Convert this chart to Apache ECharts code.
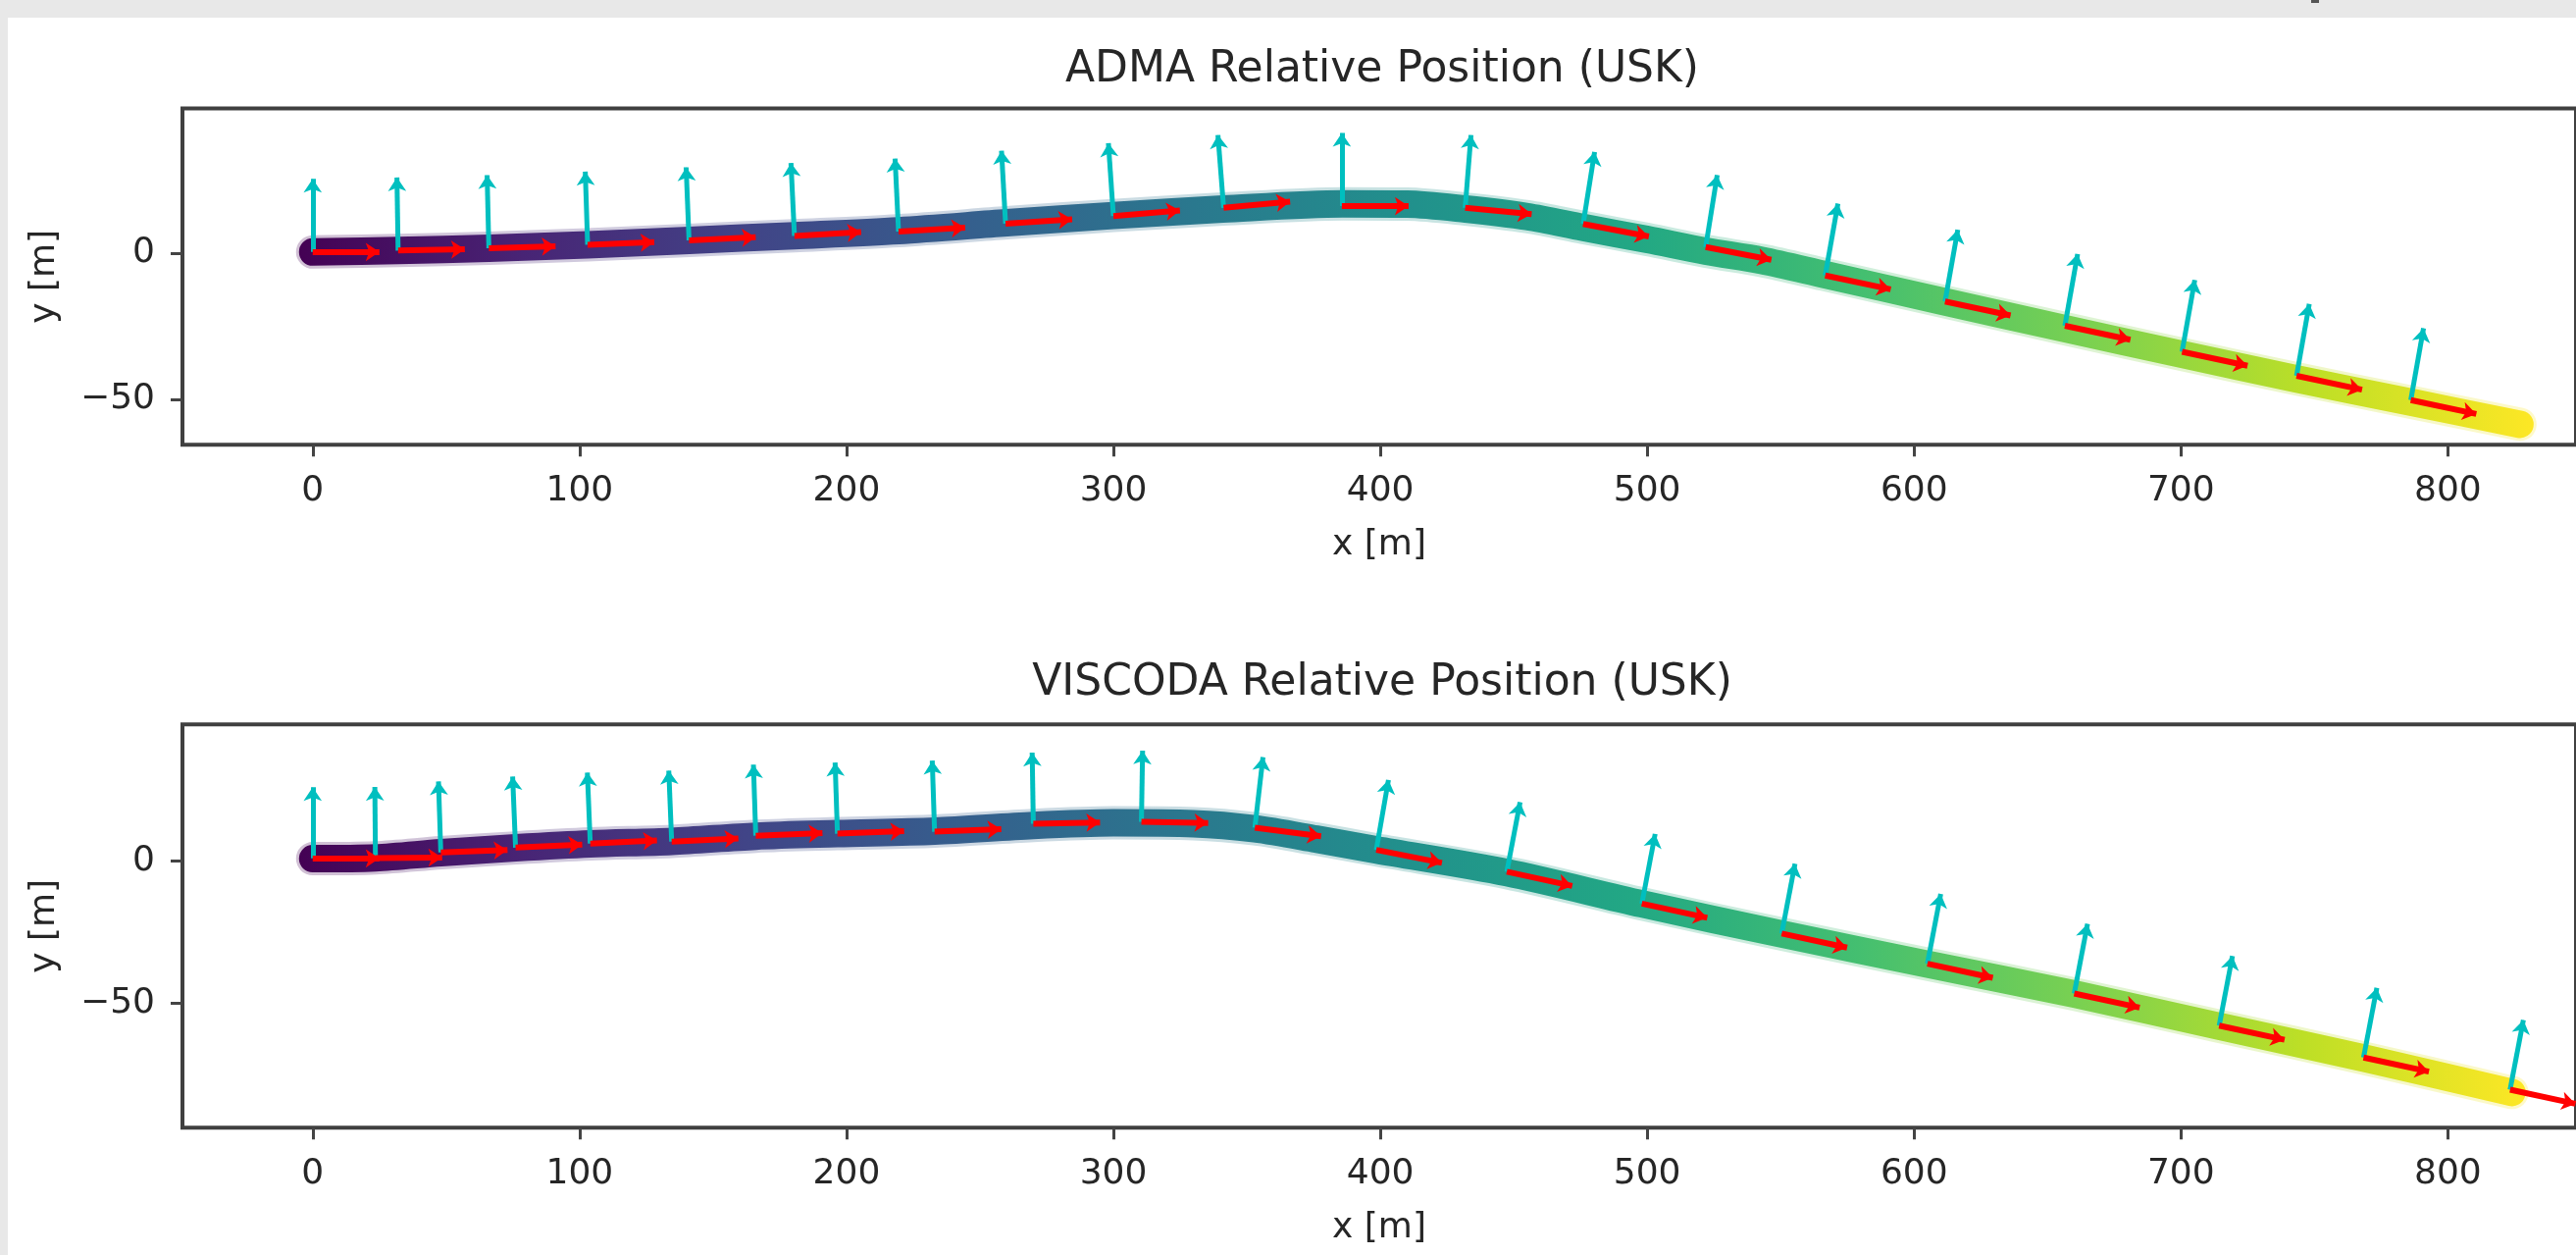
<!DOCTYPE html>
<html>
<head>
<meta charset="utf-8">
<title>Relative Position (USK)</title>
<script src="https://cdn.jsdelivr.net/npm/echarts@6/dist/echarts.min.js"></script>
<style>
  html, body { margin: 0; padding: 0; background: #fff; }
  #chart { width: 2626px; height: 1279px; }
</style>
</head>
<body>
<div id="chart"></div>
<script>
// tick labels
var xTicks = [0, 100, 200, 300, 400, 500, 600, 700, 800];
var yTicks = [-50, 0];

// ADMA trajectory (x, y in m)
var admaPathX = [0, 32, 66, 103, 141, 180.5, 219.5, 260, 300, 341, 386, 410, 432, 455, 476, 500, 522, 543, 566, 611, 656, 700, 743, 786, 827];
var admaPathY = [0.3, 0.8, 1.6, 2.8, 4.3, 5.9, 7.6, 10.3, 12.8, 15, 16.8, 16.7, 15, 12.4, 8.7, 4.6, 0.6, -2.6, -7.3, -16.6, -25.8, -34.6, -43, -51, -58.6];
// ADMA heading arrows: tail position and heading angle (deg)
var admaArrowX = [0, 32, 66, 103, 141, 180.5, 219.5, 259.6, 300, 341.3, 385.6, 431.8, 476, 521.9, 566.7, 611.6, 656.5, 700.4, 743.3, 786.1];
var admaArrowY = [0.3, 0.8, 1.6, 2.8, 4.3, 5.8, 7.3, 10, 12.6, 15.4, 16, 15.4, 9.9, 2, -7.7, -16.6, -24.9, -33.8, -42, -50.3];
var admaHeading = [0, 1, 1.5, 2, 2.5, 3, 3, 3.5, 4.3, 4.9, 0, -5, -9.9, -10, -11, -11, -11, -11, -11, -11];

// VISCODA trajectory
var viscodaPathX = [0, 23.5, 48, 76, 104, 134.5, 166, 196.6, 233, 270, 300, 330, 353, 376, 398.5, 447.4, 498, 550.4, 605, 660, 714.3, 768.4, 824];
var viscodaPathY = [0.9, 1.2, 3, 4.7, 6.1, 7, 8.8, 9.7, 10.6, 12.6, 13.5, 13.2, 11.4, 7.8, 4, -4, -15, -25.6, -36.2, -46.7, -58, -69.2, -81.3];
var viscodaArrowX = [0, 23.5, 48, 76, 104, 134.5, 166, 196.6, 233, 270, 310.5, 353, 398.5, 447.4, 498, 550.4, 605, 660, 714.3, 768.4, 823.3];
var viscodaArrowY = [1, 1.1, 3.1, 4.8, 6.2, 6.9, 9, 9.7, 10.4, 13.2, 13.9, 11.8, 4, -3.7, -14.9, -25.4, -36, -46.5, -57.8, -69, -80.3];
var viscodaHeading = [0, 0.5, 2, 2.5, 2.5, 2.5, 2, 2, 2, 1, -1, -7, -10.5, -11.5, -11.5, -11.5, -11.5, -11.5, -11.5, -11.5, -11.5];

var viridis = ['#440154', '#482475', '#414487', '#355f8d', '#2a788e', '#21918c',
               '#22a884', '#44bf70', '#7ad151', '#bddf26', '#fde725'];
var ARROW_LEN = 25;
var FONT = 'DejaVu Sans';

function pairs(xs, ys) {
  return xs.map(function (x, i) { return [x, ys[i]]; });
}

// side = false: along heading (red), side = true: left normal (cyan)
function arrows(xs, ys, heading, side) {
  return xs.map(function (x, i) {
    var a = heading[i] * Math.PI / 180;
    var dx = side ? -Math.sin(a) : Math.cos(a);
    var dy = side ? Math.cos(a) : Math.sin(a);
    return { coords: [[x, ys[i]], [x + ARROW_LEN * dx, ys[i] + ARROW_LEN * dy]] };
  });
}

function gradient() {
  return new echarts.graphic.LinearGradient(0, 0, 1, 0, viridis.map(function (c, i) {
    return { offset: i / (viridis.length - 1), color: c };
  }));
}

function minus(v) {
  return String(v).replace('-', '\u2212');
}

function xAxis(idx) {
  return {
    gridIndex: idx, type: 'value', min: -48.8, max: 848,
    axisLine: { show: false, onZero: false }, splitLine: { show: false },
    axisTick: { show: true, length: 12, customValues: xTicks, lineStyle: { width: 3, color: '#444' } },
    axisLabel: { customValues: xTicks, fontSize: 36, fontFamily: FONT, color: '#262626', margin: 29 },
    name: 'x [m]', nameLocation: 'middle', nameGap: 84,
    nameTextStyle: { fontSize: 36, fontFamily: FONT, color: '#262626' }
  };
}

function yAxis(idx, min, max) {
  return {
    gridIndex: idx, type: 'value', min: min, max: max,
    axisLine: { show: false, onZero: false }, splitLine: { show: false },
    axisTick: { show: true, length: 12, customValues: yTicks, lineStyle: { width: 3, color: '#444' } },
    axisLabel: { customValues: yTicks, fontSize: 36, fontFamily: FONT, color: '#262626', margin: 28,
                 formatter: minus },
    name: 'y [m]', nameLocation: 'middle', nameGap: 122,
    nameTextStyle: { fontSize: 36, fontFamily: FONT, color: '#262626' }
  };
}

function trackSeries(idx, xs, ys) {
  return [{
    type: 'line', xAxisIndex: idx, yAxisIndex: idx, data: pairs(xs, ys),
    showSymbol: false, smooth: 0.3, z: 1, silent: true,
    lineStyle: { width: 34, color: gradient(), opacity: 0.25, cap: 'round', join: 'round' }
  }, {
    type: 'line', xAxisIndex: idx, yAxisIndex: idx, data: pairs(xs, ys),
    showSymbol: false, smooth: 0.3, z: 2, silent: true,
    lineStyle: { width: 28, color: gradient(), cap: 'round', join: 'round' }
  }];
}

function arrowSeries(idx, xs, ys, heading, side, color, width, size) {
  return {
    type: 'lines', coordinateSystem: 'cartesian2d', xAxisIndex: idx, yAxisIndex: idx,
    symbol: ['none', 'arrow'], symbolSize: size, z: side ? 3 : 4, silent: true,
    lineStyle: { color: color, width: width, opacity: 1, curveness: 0 },
    data: arrows(xs, ys, heading, side)
  };
}

var chart = echarts.init(document.getElementById('chart'));

chart.setOption({
  animation: false,
  backgroundColor: '#ffffff',
  grid: [
    { left: 186, top: 110.5, right: -6, height: 342.8, show: true, borderColor: '#404040', borderWidth: 4, backgroundColor: '#fff' },
    { left: 186, top: 738.3, right: -6, height: 411, show: true, borderColor: '#404040', borderWidth: 4, backgroundColor: '#fff' }
  ],
  xAxis: [xAxis(0), xAxis(1)],
  yAxis: [yAxis(0, -65.6, 49.4), yAxis(1, -93.7, 48.1)],
  graphic: [
    { type: 'rect', shape: { x: 0, y: 0, width: 2626, height: 18 }, style: { fill: '#e8e8e8' }, silent: true },
    { type: 'rect', shape: { x: 0, y: 0, width: 8, height: 1279 }, style: { fill: '#e8e8e8' }, silent: true },
    { type: 'rect', shape: { x: 2356, y: 0, width: 8, height: 3 }, style: { fill: '#555' }, silent: true },
    { type: 'text', x: 1409, y: 72, style: { text: 'ADMA Relative Position (USK)', font: '44px "DejaVu Sans"', fill: '#262626', align: 'center', verticalAlign: 'middle' } },
    { type: 'text', x: 1409, y: 697, style: { text: 'VISCODA Relative Position (USK)', font: '44px "DejaVu Sans"', fill: '#262626', align: 'center', verticalAlign: 'middle' } }
  ],
  series: [].concat(
    trackSeries(0, admaPathX, admaPathY),
    [arrowSeries(0, admaArrowX, admaArrowY, admaHeading, true, '#00bfbf', 5, 14),
     arrowSeries(0, admaArrowX, admaArrowY, admaHeading, false, '#ff0000', 6, 14)],
    trackSeries(1, viscodaPathX, viscodaPathY),
    [arrowSeries(1, viscodaArrowX, viscodaArrowY, viscodaHeading, true, '#00bfbf', 5, 14),
     arrowSeries(1, viscodaArrowX, viscodaArrowY, viscodaHeading, false, '#ff0000', 6, 14)]
  )
});
</script>
</body>
</html>
